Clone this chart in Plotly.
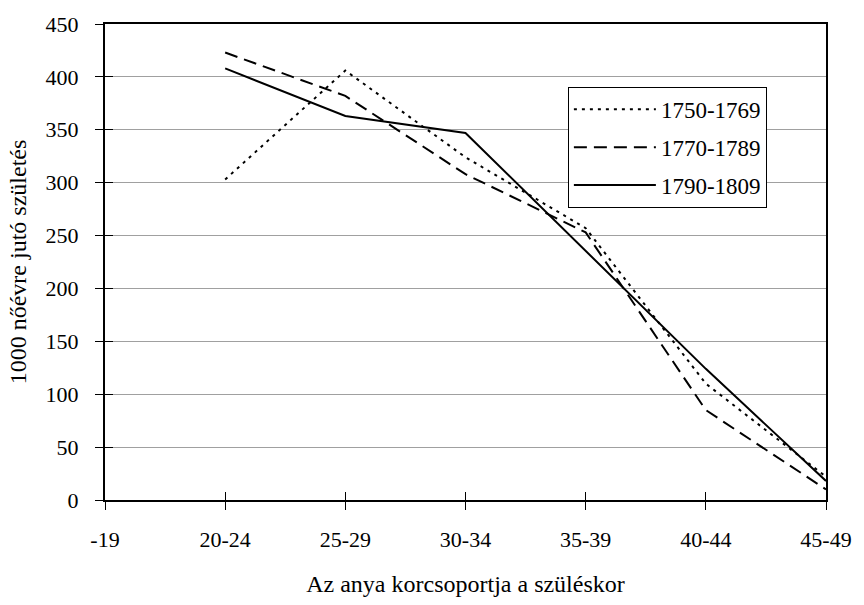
import plotly.graph_objects as go

categories = ["-19", "20-24", "25-29", "30-34", "35-39", "40-44", "45-49"]
s1750 = [None, 303, 406, 324, 257, 110, 22]
s1770 = [None, 423, 382, 308, 253, 85, 10]
s1790 = [None, 408, 363, 347, 235, 124, 18]
series_names = ["1750-1769", "1770-1789", "1790-1809"]
y_ticks = [0, 50, 100, 150, 200, 250, 300, 350, 400, 450]

FONT = "Liberation Serif"

fig = go.Figure()
styles = ["3px,5px", "13px,7px", "solid"]
for name, vals, dash, grp in zip(series_names, [s1750, s1770, s1790], styles, ["a", "b", "c"]):
    fig.add_trace(go.Scatter(
        x=categories, y=vals, mode="lines", name=name, legendgroup=grp,
        line=dict(color="black", width=2, dash=dash),
        connectgaps=False,
    ))

# empty trace on overlay axes, used only to draw the inner half of the cross ticks
fig.add_trace(go.Scatter(x=[], y=[], xaxis="x2", yaxis="y2", showlegend=False,
                         hoverinfo="skip"))

fig.update_layout(
    width=864, height=605,
    margin=dict(l=105, r=32, t=20, b=94),
    paper_bgcolor="white", plot_bgcolor="white",
    font=dict(family=FONT, size=22, color="black"),
    showlegend=True,
    legend=dict(
        x=0.642, y=0.868, xanchor="left", yanchor="top",
        bgcolor="white", bordercolor="black", borderwidth=1,
        font=dict(family=FONT, size=23, color="black"),
        tracegroupgap=5, itemwidth=82,
    ),
    xaxis=dict(
        type="category", categoryorder="array", categoryarray=categories,
        range=[0, len(categories) - 1],
        showgrid=False, zeroline=False,
        showline=True, linecolor="black", linewidth=2, mirror=True,
        ticks="outside", ticklen=8, tickcolor="black", tickwidth=1,
        ticklabelstandoff=11, tickfont=dict(size=22),
        title=dict(text="Az anya korcsoportja a szüléskor", font=dict(size=24), standoff=24),
    ),
    yaxis=dict(
        range=[0, 450], tickvals=y_ticks,
        showgrid=True, gridcolor="#a0a0a0", gridwidth=1, zeroline=False,
        showline=True, linecolor="black", linewidth=2, mirror=True,
        ticks="outside", ticklen=8, tickcolor="black", tickwidth=1,
        ticklabelstandoff=12, tickfont=dict(size=22),
        title=dict(text="1000 nőévre jutó születés", font=dict(size=24), standoff=12),
    ),
    xaxis2=dict(
        type="category", categoryorder="array", categoryarray=categories,
        range=[0, len(categories) - 1], overlaying="x", anchor="y2", side="bottom",
        showgrid=False, zeroline=False, showline=False, showticklabels=False,
        ticks="inside", ticklen=8, tickcolor="black", tickwidth=1,
    ),
    yaxis2=dict(
        range=[0, 450], tickvals=y_ticks, overlaying="y", anchor="x2", side="left",
        showgrid=False, zeroline=False, showline=False, showticklabels=False,
        ticks="inside", ticklen=8, tickcolor="black", tickwidth=1,
    ),
)

fig.write_html("out.html", post_script="document.body.style.margin='0px';",
               config={"displayModeBar": False})
